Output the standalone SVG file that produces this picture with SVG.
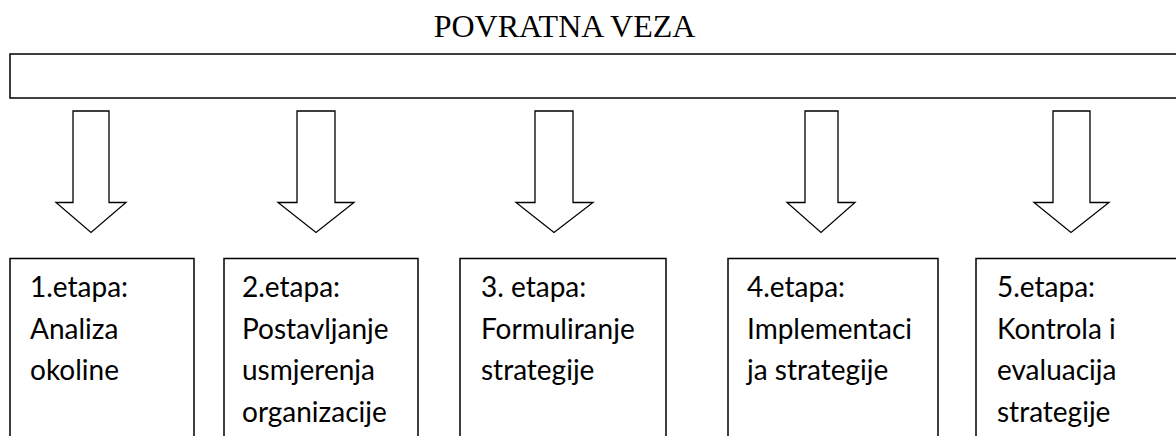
<svg xmlns="http://www.w3.org/2000/svg" width="1176" height="436" viewBox="0 0 1176 436">
<style>
.box{fill:#fff;stroke:#000;stroke-width:1.5}
.arrow{fill:#fff;stroke:#000;stroke-width:1.3;stroke-linejoin:miter}
.lbl{font-family:Lato,"Open Sans",sans-serif;font-size:28px;fill:#000}
.title{font-family:"Liberation Serif","Times New Roman",serif;font-size:32px;fill:#000}
</style>
<rect width="1176" height="436" fill="#fff"/>
<text class="title" x="564.5" y="37" text-anchor="middle">POVRATNA VEZA</text>
<g id="feedback">
<rect class="box" x="10" y="54" width="1180" height="44"/>
</g>
<g id="connectors">
<polygon class="arrow" points="73,111 109,111 109,202.5 126,202.5 91,232.5 56,202.5 73,202.5"/>
<polygon class="arrow" points="297,111 335,111 335,202.5 354,202.5 316,232.5 278,202.5 297,202.5"/>
<polygon class="arrow" points="535,111 573,111 573,202.5 593,202.5 554,232.5 516,202.5 535,202.5"/>
<polygon class="arrow" points="805,111 838,111 838,202.5 855,202.5 821,232.5 787,202.5 805,202.5"/>
<polygon class="arrow" points="1053,111 1090,111 1090,202.5 1109,202.5 1071,232.5 1034,202.5 1053,202.5"/>
</g>
<g id="stage1">
<rect class="box" x="10" y="258.5" width="184" height="200"/>
<text class="lbl" x="30" y="297">1.etapa:</text>
<text class="lbl" x="30" y="338.5">Analiza</text>
<text class="lbl" x="30" y="380">okoline</text>
</g>
<g id="stage2">
<rect class="box" x="224" y="258.5" width="194" height="200"/>
<text class="lbl" x="242" y="297">2.etapa:</text>
<text class="lbl" x="242" y="338.5">Postavljanje</text>
<text class="lbl" x="242" y="380">usmjerenja</text>
<text class="lbl" x="242" y="421.5">organizacije</text>
</g>
<g id="stage3">
<rect class="box" x="460" y="258.5" width="206" height="200"/>
<text class="lbl" x="481" y="297">3. etapa:</text>
<text class="lbl" x="481" y="338.5">Formuliranje</text>
<text class="lbl" x="481" y="380">strategije</text>
</g>
<g id="stage4">
<rect class="box" x="728" y="258.5" width="210" height="200"/>
<text class="lbl" x="747" y="297">4.etapa:</text>
<text class="lbl" x="747" y="338.5">Implementaci</text>
<text class="lbl" x="747" y="380">ja strategije</text>
</g>
<g id="stage5">
<rect class="box" x="976" y="258.5" width="220" height="200"/>
<text class="lbl" x="997" y="297">5.etapa:</text>
<text class="lbl" x="997" y="338.5">Kontrola i</text>
<text class="lbl" x="997" y="380">evaluacija</text>
<text class="lbl" x="997" y="421.5">strategije</text>
</g>
</svg>
